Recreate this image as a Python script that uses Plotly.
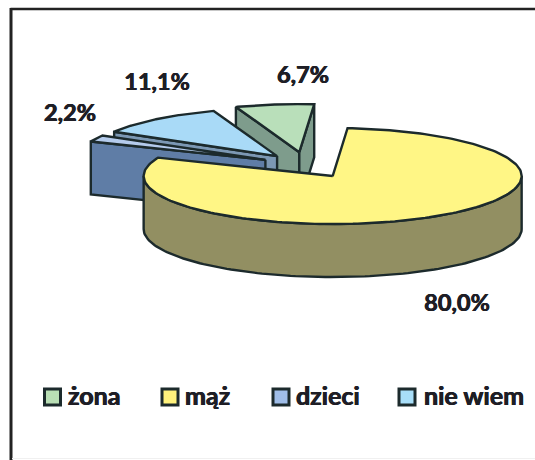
import numpy as np
import plotly.graph_objects as go

# Values
categories = ["żona", "mąż", "dzieci", "nie wiem"]
values = [6.7, 80.0, 2.2, 11.1]
labels = ["6,7%", "80,0%", "2,2%", "11,1%"]

top_colors = ["#B9DFBA", "#FFF685", "#B4CBEC", "#A9DAF7"]
wall_colors = ["#7E9C8C", "#928F62", "#5F7DA6", "#7C98B4"]
legend_colors = ["#B9DFB5", "#FFF27C", "#9FBDE8", "#A8DEF8"]
edge = "#1C2A2C"
text_color = "#1E1E26"
# The scanned Calibri is heavier than Lato bold
text_shadow = "0.4px 0 0 #1E1E26, -0.4px 0 0 #1E1E26"

# Pie geometry, in page pixels
cx, cy = 306, 165
rx, ry = 189, 48
depth = 53
explode = [0.27, 0.27, 0.24, 0.24]
first_angle = 340.4 - 360
draw_order = [0, 3, 2, 1]

# Page pixels: slices, labels and legend are placed on these axes
label_x = [303, 457, 70, 157]
label_y = [77, 305, 115, 84]
legend_x = [52.5, 170, 281, 407]
legend_text_x = [68, 185, 296, 424]
legend_y = 397
legend_text_y = 399

fig = go.Figure()


def ring(bearing):
    rad = np.radians(bearing)
    return np.sin(rad), -np.cos(rad)


def add_poly(xs, ys, color):
    fig.add_trace(
        go.Scatter(
            x=xs,
            y=ys,
            mode="lines",
            fill="toself",
            fillcolor=color,
            line=dict(color=edge, width=2.4),
            hoverinfo="skip",
        )
    )


shares = np.array(values) / sum(values) * 360
starts = first_angle + np.concatenate(([0], np.cumsum(shares)[:-1]))

for i in draw_order:
    start, end = starts[i], starts[i] + shares[i]
    ux, uy = ring((start + end) / 2)
    ax = cx + explode[i] * rx * ux
    ay = cy + explode[i] * ry * uy
    # Radial walls that face the viewer
    for bearing, sign in ((start, -1), (end, 1)):
        if sign * np.sin(np.radians(bearing)) > 0:
            wx, wy = ring(bearing)
            px, py = ax + rx * wx, ay + ry * wy
            add_poly(
                [ax, px, px, ax, ax],
                [ay, py, py + depth, ay + depth, ay],
                wall_colors[i],
            )
    # Outer wall, front half of the rim only
    lo, hi = max(start, 90), min(end, 270)
    if lo < hi:
        t = np.linspace(lo, hi, 120)
        wx, wy = ring(t)
        px, py = ax + rx * wx, ay + ry * wy
        add_poly(
            np.concatenate((px, px[::-1], px[:1])),
            np.concatenate((py, py[::-1] + depth, py[:1])),
            wall_colors[i],
        )
    # Top face
    t = np.linspace(start, end, 200)
    wx, wy = ring(t)
    add_poly(
        np.concatenate(([ax], ax + rx * wx, [ax])),
        np.concatenate(([ay], ay + ry * wy, [ay])),
        top_colors[i],
    )

# Percent labels
fig.add_trace(
    go.Scatter(
        x=label_x,
        y=label_y,
        text=labels,
        mode="text",
        textfont=dict(
            family="Lato", size=23.5, color=text_color, weight="bold", shadow=text_shadow
        ),
        hoverinfo="skip",
    )
)

# Legend
fig.add_trace(
    go.Scatter(
        x=legend_x,
        y=[legend_y] * len(legend_x),
        mode="markers",
        marker=dict(
            symbol="square",
            size=16,
            color=legend_colors,
            line=dict(color=edge, width=3),
        ),
        hoverinfo="skip",
    )
)
fig.add_trace(
    go.Scatter(
        x=legend_text_x,
        y=[legend_text_y] * len(legend_text_x),
        text=categories,
        mode="text",
        textposition="middle right",
        textfont=dict(
            family="Lato", size=25, color=text_color, weight="bold", shadow=text_shadow
        ),
        hoverinfo="skip",
    )
)

# Chart frame: the scan only keeps its top and left edges, plus a faint bottom one
fig.add_shape(type="line", x0=10.5, y0=9, x1=535, y1=9, line=dict(color="#222222", width=2.5))
fig.add_shape(type="line", x0=11, y0=8, x1=11, y1=460, line=dict(color="#222222", width=3))
fig.add_shape(type="line", x0=12, y0=458.5, x1=535, y1=458.5, line=dict(color="#F0F0F0", width=1))

fig.update_xaxes(range=[0, 535], visible=False)
fig.update_yaxes(range=[460, 0], visible=False)
fig.update_layout(
    width=535,
    height=460,
    margin=dict(l=0, r=0, t=0, b=0),
    showlegend=False,
    paper_bgcolor="white",
    plot_bgcolor="white",
)

fig.write_html(
    "out.html",
    config=dict(displayModeBar=False),
    post_script="document.body.style.margin='0';document.body.style.overflow='hidden';",
)
